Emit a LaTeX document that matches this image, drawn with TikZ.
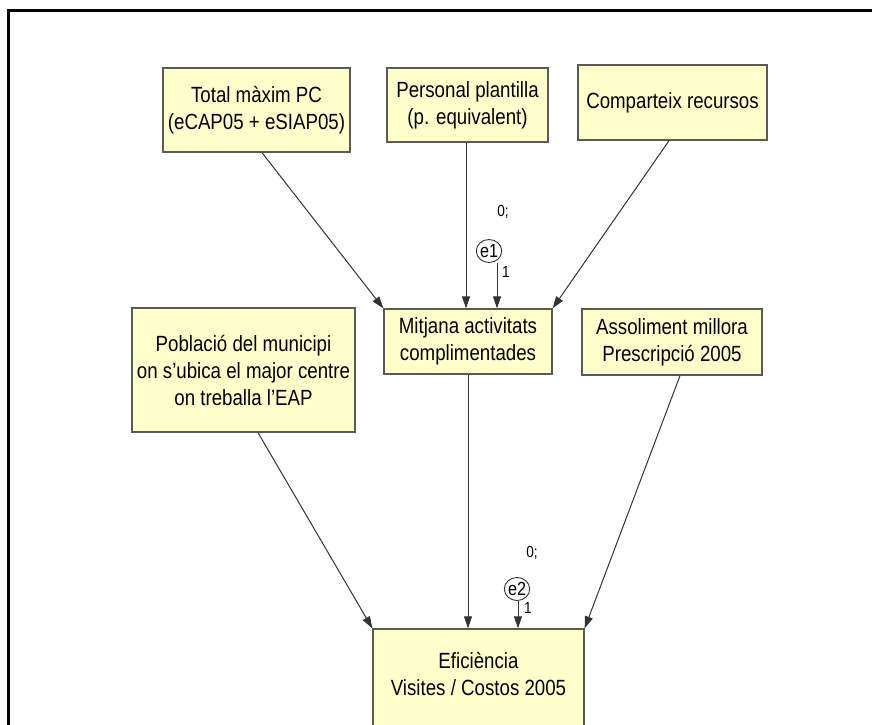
\documentclass[tikz,border=0pt]{standalone}
\usepackage{fontspec}
\setmainfont[FakeStretch=0.85]{Liberation Sans}
\usetikzlibrary{arrows.meta,shapes.geometric}
\definecolor{boxfill}{HTML}{FFFFCC}
\definecolor{boxline}{HTML}{5A5A5A}
\definecolor{wire}{HTML}{333333}
\begin{document}
\begin{tikzpicture}[x=1pt,y=-1pt,
  varbox/.style={draw=boxline, fill=boxfill, line width=1.3pt, inner sep=0pt,
    align=center, font=\fontsize{22}{27}\selectfont},
  errvar/.style={draw=wire, ellipse, line width=0.9pt, inner sep=0pt,
    minimum width=20pt, minimum height=23pt, font=\fontsize{19}{19}\selectfont},
  small/.style={font=\fontsize{16}{16}\selectfont, inner sep=0pt},
  link/.style={draw=wire, line width=1pt, -{Triangle[length=12pt,width=8pt]}}]
\useasboundingbox (0,0) rectangle (872,724);
\clip (0,0) rectangle (872,724);
% frame
\draw[line width=3pt] (8.3,10.5) rectangle (900,780);

% observed variables
\node[varbox, minimum width=187pt, minimum height=84pt] (tot) at (256.5,110)
  {Total màxim PC\\(eCAP05 + eSIAP05)};
\node[varbox, minimum width=161pt, minimum height=74pt] (per) at (467.5,105)
  {Personal plantilla\\(p. equivalent)};
\node[varbox, minimum width=189pt, minimum height=75pt] (com) at (672.5,102.5)
  {Comparteix recursos};
\node[varbox, minimum width=223pt, minimum height=124pt] (pob) at (243.5,370)
  {Població del municipi\\on s'ubica el major centre\\on treballa l'EAP};
\node[varbox, minimum width=168pt, minimum height=65pt] (mit) at (468,341.5)
  {Mitjana activitats\\complimentades};
\node[varbox, minimum width=180pt, minimum height=66pt] (ass) at (672,342)
  {Assoliment millora\\Prescripció 2005};
\node[varbox, minimum width=211pt, minimum height=140pt] (efi) at (478.5,699) {};
\node[align=center, inner sep=0pt, font=\fontsize{22}{27}\selectfont] (efitext) at (478.5,674)
  {Eficiència\\Visites / Costos 2005};

% error terms
\node[errvar] (e1) at (489,251) {e1};
\node[small] (e1w) at (503,212) {0;};
\node[small] (e1r) at (506,272) {1};
\node[errvar] (e2) at (517,589) {e2};
\node[small] (e2w) at (532,553) {0;};
\node[small] (e2r) at (528,608) {1};

% paths into Mitjana activitats
\draw[link] ([xshift=5.5pt]tot.south) -- (mit.north west);
\draw[link] ([xshift=-1.5pt]per.south) -- ([xshift=-1.5pt]per.south |- mit.north);
\draw[link] ([xshift=8pt]e1.south) -- ([xshift=8pt]e1.south |- mit.north);
\draw[link] ([xshift=-3.5pt]com.south) -- (mit.north east);

% paths into Eficiència
\draw[link] ([xshift=14.5pt]pob.south) -- (efi.north west);
\draw[link] (mit.south) -- (mit.south |- efi.north);
\draw[link] ([xshift=1pt]e2.south) -- ([xshift=1pt]e2.south |- efi.north);
\draw[link] ([xshift=8pt]ass.south) -- (efi.north east);
\end{tikzpicture}
\end{document}
